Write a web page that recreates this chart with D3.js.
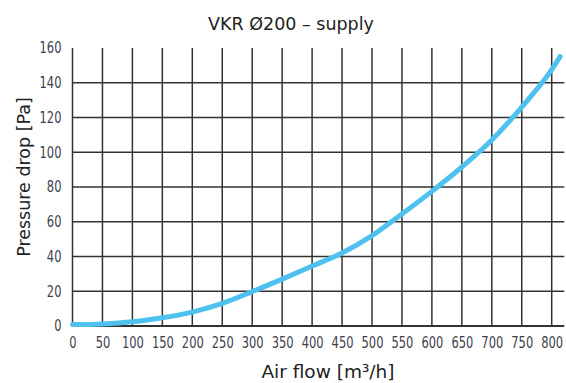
<!DOCTYPE html>
<html>
<head>
<meta charset="utf-8">
<script src="https://cdn.jsdelivr.net/npm/d3@7"></script>
<style>
  html, body { margin: 0; padding: 0; background: #fff; }
  svg { display: block; }
</style>
</head>
<body>
<svg id="chart" width="566" height="383"></svg>
<script>
// Air flow (m³/h) and pressure drop (Pa) along the supply curve
const airFlow  = [0, 50, 100, 150, 200, 250, 300, 350, 400, 450, 500, 550, 600, 650, 700, 750, 800, 814];
const pressure = [0.8, 1.2, 2.4, 4.7, 8, 13, 19.8, 27, 34.5, 42, 52, 64.5, 77.5, 91.5, 107, 126, 147.5, 155];

// Tick values
const xTicks = d3.range(0, 801, 50);
const yTicks = d3.range(0, 161, 20);
const xGridEnd = 821;   // horizontal grid lines run slightly past the last tick

const title = "VKR Ø200 – supply";

const svg = d3.select("#chart");
const x = d3.scaleLinear().domain([0, 800]).range([72.5, 551.7]);
const y = d3.scaleLinear().domain([0, 160]).range([326, 48]);

const gridColor = "#333";
const tickFont = "'DejaVu Sans Condensed', 'DejaVu Sans', sans-serif";
const tickColor = "#3e3e4c";
const squeeze = 0.85;   // narrow the tick digits

// Horizontal grid lines (excluding the top value)
svg.append("g").selectAll("line")
  .data(yTicks.filter(v => v > 0 && v < 160))
  .join("line")
  .attr("x1", x(0)).attr("x2", x(xGridEnd))
  .attr("y1", d => y(d)).attr("y2", d => y(d))
  .attr("stroke", gridColor).attr("stroke-width", 1.5);

// Vertical grid lines
svg.append("g").selectAll("line")
  .data(xTicks)
  .join("line")
  .attr("x1", d => x(d)).attr("x2", d => x(d))
  .attr("y1", y(0)).attr("y2", y(160))
  .attr("stroke", gridColor).attr("stroke-width", 1.5);

// Baseline
svg.append("line")
  .attr("x1", x(0)).attr("x2", x(xGridEnd))
  .attr("y1", y(0)).attr("y2", y(0))
  .attr("stroke", gridColor).attr("stroke-width", 1.8);

// Bottom axis labels
const xAxis = d3.axisBottom(x).tickValues(xTicks).tickSize(0).tickPadding(11).tickFormat(d3.format("d"));
const gx = svg.append("g").attr("transform", `translate(0,${y(0)})`).call(xAxis);
gx.select(".domain").remove();
gx.selectAll("text")
  .attr("font-family", tickFont).attr("font-size", 15).attr("fill", tickColor)
  .attr("transform", `scale(${squeeze},1)`);

// Left axis labels
const yAxis = d3.axisLeft(y).tickValues(yTicks).tickSize(0).tickPadding(13).tickFormat(d3.format("d"));
const gy = svg.append("g").attr("transform", `translate(${x(0)},0)`).call(yAxis);
gy.select(".domain").remove();
gy.selectAll("text")
  .attr("font-family", tickFont).attr("font-size", 15).attr("fill", tickColor)
  .attr("transform", `scale(${squeeze},1)`);

// Pressure drop curve
const line = d3.line()
  .x((d, i) => x(airFlow[i]))
  .y(d => y(d))
  .curve(d3.curveMonotoneX);

svg.append("path")
  .datum(pressure)
  .attr("d", line)
  .attr("fill", "none")
  .attr("stroke", "#4fc1ef")
  .attr("stroke-width", 5)
  .attr("stroke-linecap", "round")
  .attr("stroke-linejoin", "round");

// Titles
const labelFont = "'DejaVu Sans', Verdana, sans-serif";
svg.append("text")
  .attr("x", 291).attr("y", 30)
  .attr("text-anchor", "middle")
  .attr("font-family", labelFont).attr("font-size", 17.5).attr("fill", "#222")
  .text(title);

svg.append("text")
  .attr("x", 328).attr("y", 378)
  .attr("text-anchor", "middle")
  .attr("font-family", labelFont).attr("font-size", 18.5).attr("fill", "#222")
  .text("Air flow [m³/h]");

svg.append("text")
  .attr("transform", "translate(30,177) rotate(-90)")
  .attr("text-anchor", "middle")
  .attr("font-family", labelFont).attr("font-size", 17.5).attr("fill", "#222")
  .text("Pressure drop [Pa]");
</script>
</body>
</html>
